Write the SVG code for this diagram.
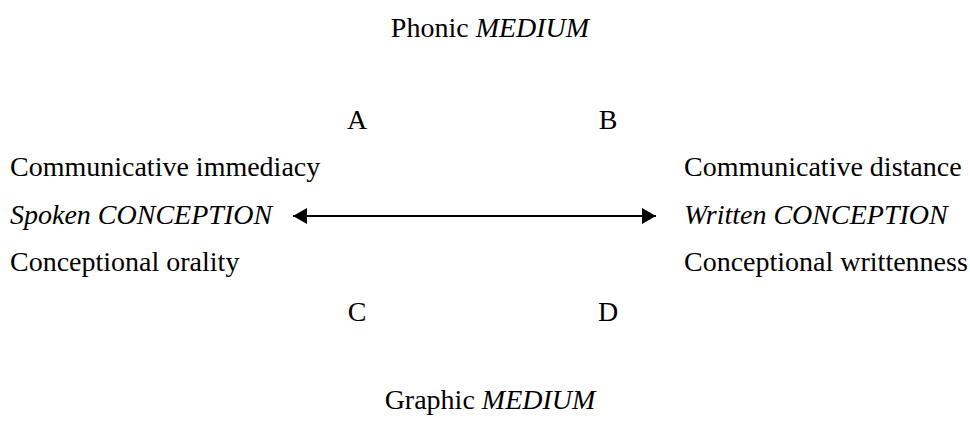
<svg xmlns="http://www.w3.org/2000/svg" width="970" height="423" viewBox="0 0 970 423">
<style>
text{font-family:"Liberation Serif","Times New Roman",serif;font-size:28px;fill:#000}
.i{font-style:italic}
.c{text-anchor:middle}
</style>
<defs>
<marker id="ah" viewBox="0 0 14 16" refX="14" refY="8" markerWidth="14" markerHeight="16" markerUnits="userSpaceOnUse" orient="auto-start-reverse">
<path d="M0,0 L14,8 L0,16 Z" fill="#000"/>
</marker>
</defs>
<rect width="970" height="423" fill="#fff"/>
<g id="phonic"><text x="490" y="37" class="c">Phonic <tspan class="i">MEDIUM</tspan></text></g>
<g id="A"><text x="357" y="129" class="c">A</text></g>
<g id="B"><text x="608" y="129" class="c">B</text></g>
<g id="left">
<text x="10" y="176">Communicative immediacy</text>
<text x="10" y="224" class="i">Spoken CONCEPTION</text>
<text x="10" y="271">Conceptional orality</text>
</g>
<g id="right">
<text x="684" y="176">Communicative distance</text>
<text x="684" y="224" class="i">Written CONCEPTION</text>
<text x="684" y="271">Conceptional writtenness</text>
</g>
<g id="C"><text x="357" y="321" class="c">C</text></g>
<g id="D"><text x="608" y="321" class="c">D</text></g>
<g id="graphic"><text x="490" y="409" class="c">Graphic <tspan class="i">MEDIUM</tspan></text></g>
<g id="connectors">
<line x1="293" y1="216" x2="656" y2="216" stroke="#000" stroke-width="2" marker-start="url(#ah)" marker-end="url(#ah)"/>
</g>
</svg>
